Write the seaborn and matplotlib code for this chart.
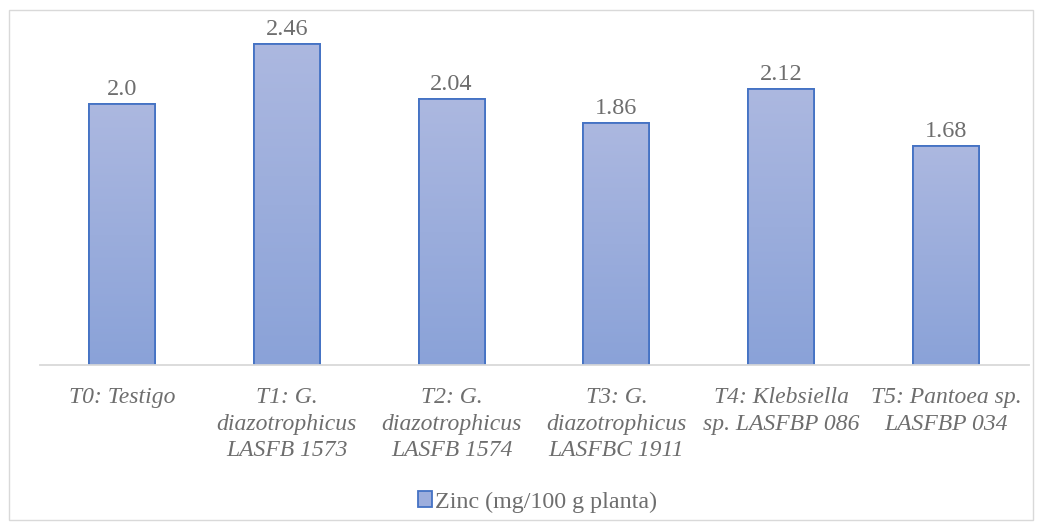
import numpy as np
import pandas as pd
import matplotlib
matplotlib.use('Agg')
import matplotlib.pyplot as plt
import seaborn as sns
from matplotlib.colors import LinearSegmentedColormap
from matplotlib.patches import Rectangle, Patch

categories = ['T0: Testigo',
              'T1: G.\ndiazotrophicus\nLASFB 1573',
              'T2: G.\ndiazotrophicus\nLASFB 1574',
              'T3: G.\ndiazotrophicus\nLASFBC 1911',
              'T4: Klebsiella\nsp. LASFBP 086',
              'T5: Pantoea sp.\nLASFBP 034']
zinc = [2.0, 2.46, 2.04, 1.86, 2.12, 1.68]
value_labels = ['2.0', '2.46', '2.04', '1.86', '2.12', '1.68']
series_name = 'Zinc (mg/100 g planta)'

df = pd.DataFrame({'trat': categories, 'zinc': zinc})

sns.set_style('white')
plt.rcParams['font.family'] = ['Liberation Serif', 'DejaVu Serif']
txt_color = '#6E6E6E'

fig = plt.figure(figsize=(10.43, 5.30), dpi=100)
ax = fig.add_axes([0.0379, 0.3113, 0.9482, 0.6642])

sns.barplot(data=df, x='trat', y='zinc', ax=ax, width=0.4,
            color='#9DAEDD', edgecolor='#4472C4', linewidth=1.3, saturation=1)

# gradiente dentro de las barras
cmap = LinearSegmentedColormap.from_list('g', ['#8AA2D8', '#ACB8E0'])
grad = np.linspace(0, 1, 256).reshape(-1, 1)
for p in ax.patches:
    x0, y0 = p.get_x(), p.get_y()
    w, h = p.get_width(), p.get_height()
    im = ax.imshow(grad, cmap=cmap, origin='lower', aspect='auto',
                   extent=[x0, x0 + w, y0, y0 + h], zorder=p.get_zorder() + 0.1)
    im.set_clip_path(p)
    edge = Rectangle((x0, y0), w, h, fill=False, edgecolor='#4472C4',
                     linewidth=1.3, zorder=p.get_zorder() + 0.2)
    ax.add_patch(edge)

for i, v in enumerate(zinc):
    ax.text(i, v + 0.03, value_labels[i], ha='center', va='bottom',
            fontsize=17.5, color=txt_color)

ax.set_xlim(-0.5, len(categories) - 0.5)
ax.set_ylim(0, 2.7)
ax.set_xlabel('')
ax.set_ylabel('')
ax.set_yticks([])
ax.tick_params(axis='x', length=0, pad=16)
for lab in ax.get_xticklabels():
    lab.set_fontstyle('italic')
    lab.set_fontsize(17)
    lab.set_color(txt_color)
    lab.set_linespacing(1.33)
for s in ['top', 'left', 'right']:
    ax.spines[s].set_visible(False)
ax.spines['bottom'].set_color('#D9D9D9')
ax.spines['bottom'].set_linewidth(1.3)

handle = Patch(facecolor='#9DAEDD', edgecolor='#4472C4', linewidth=1.3)
fig.legend([handle], [series_name], loc='center', bbox_to_anchor=(0.515, 0.053),
           frameon=False, fontsize=17.3, labelcolor=txt_color,
           handlelength=0.6, handleheight=0.6, handletextpad=0.1)

fig.patches.append(Rectangle((9 / 1043, 10 / 530), 1024 / 1043, 510 / 530,
                             transform=fig.transFigure, fill=False,
                             edgecolor='#D9D9D9', linewidth=1))

fig.savefig('out.png', dpi=100)
